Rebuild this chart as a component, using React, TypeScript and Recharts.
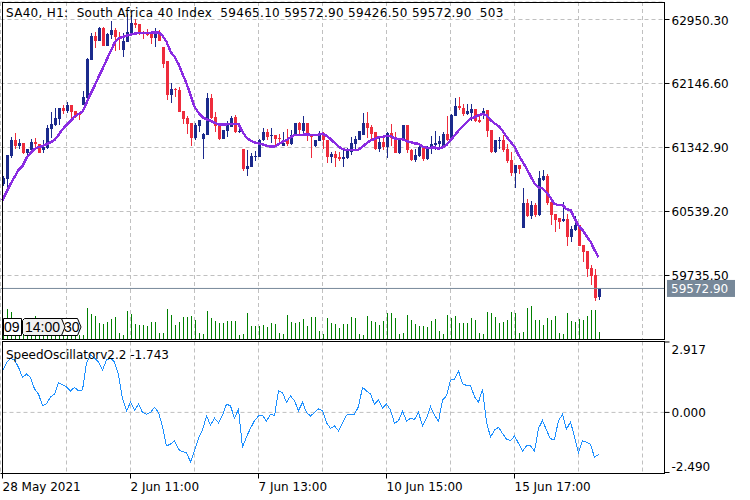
import React from 'react';
import { Bar, CartesianGrid, Cell, ComposedChart, Line, ReferenceLine, XAxis, YAxis } from 'recharts';

const FONT = '"DejaVu Sans", sans-serif';
const TAG_FONT = '"Liberation Sans", sans-serif';
const UP = '#1B2A8C';
const DOWN = '#EE2C3C';
const GRID = '#C0C0C0';
const SLATE = '#778899';
const VOLUME = '#008000';

const opens = [60884,60947,61236,61437,61361,61399,61274,61311,61412,61387,61311,61336,61575,61625,61701,61839,61801,61876,61801,61776,61876,61964,62442,62743,62680,62843,62617,62755,62818,62730,62567,62668,62755,62906,62894,62793,62781,62793,62718,62793,62605,62429,62002,62077,62065,61801,61713,61650,61462,61613,61449,61500,61964,61726,61625,61449,61550,61600,61726,61537,61324,61073,61098,61223,61223,61437,61537,61487,61500,61462,61361,61437,61387,61500,61650,61550,61650,61500,61361,61424,61512,61437,61223,61261,61223,61198,61211,61286,61387,61437,61500,61650,61600,61537,61324,61412,61349,61525,61475,61274,61437,61625,61311,61186,61236,61336,61198,61324,61374,61387,61361,61512,61437,61738,61864,61839,61763,61776,61826,61688,61751,61814,61562,61286,61424,61437,61324,61186,61022,61123,60332,60646,60483,60621,60495,60935,60985,60658,60508,60457,60420,60445,60219,60307,60369,60118,60043,59830,59742,59465.1];
const highs = [60985,61248,61475,61525,61449,61399,61324,61449,61462,61387,61437,61625,61788,61839,61839,61876,61914,61876,61801,61788,62052,62467,62781,62793,62856,62856,62781,62931,62843,62793,62781,63019,63007,62956,62894,62806,62831,62793,62843,62818,62605,62429,62153,62090,62102,61801,61738,61650,61650,61688,61525,62027,62015,61788,61625,61562,61675,61738,61751,61638,61324,61311,61274,61299,61449,61588,61575,61588,61500,61512,61537,61575,61562,61650,61663,61738,61650,61512,61437,61550,61537,61437,61286,61299,61286,61311,61336,61475,61487,61550,61776,61788,61625,61537,61462,61462,61537,61638,61537,61462,61625,61625,61324,61324,61361,61336,61361,61487,61550,61487,61537,61738,61763,61964,61977,61889,61889,61889,61826,61763,61839,61814,61562,61437,61475,61500,61387,61286,61123,61123,60834,60696,60671,60646,61047,61060,61010,60683,60508,60457,60658,60508,60357,60483,60369,60118,60043,59867,59817,59572.9];
const lows = [60859,60784,61211,61324,61324,61261,61211,61274,61324,61274,61274,61324,61462,61613,61625,61763,61776,61663,61713,61688,61876,61902,62442,62592,62680,62617,62617,62705,62555,62567,62479,62668,62755,62843,62755,62705,62743,62642,62605,62680,62341,61939,61902,61977,61788,61638,61512,61361,61437,61537,61198,61500,61701,61537,61437,61449,61475,61600,61525,61525,61047,60985,61098,61173,61223,61424,61437,61399,61374,61399,61361,61361,61374,61500,61512,61525,61424,61211,61349,61424,61324,61148,61148,61098,61173,61098,61198,61248,61311,61437,61500,61462,61437,61311,61286,61311,61211,61361,61274,61261,61437,61274,61173,61161,61223,61173,61186,61261,61311,61324,61361,61424,61437,61738,61814,61738,61751,61675,61663,61650,61701,61475,61274,61274,61324,61286,61148,60985,60834,61010,60332,60470,60445,60470,60483,60922,60621,60369,60282,60319,60407,60106,60156,60294,60106,59905,59717,59616,59415,59426.5];
const closes = [60960,61248,61437,61361,61399,61274,61324,61412,61387,61274,61349,61588,61638,61713,61839,61801,61876,61788,61738,61751,61977,62454,62743,62680,62843,62617,62768,62818,62730,62705,62680,62793,62906,62881,62768,62768,62755,62718,62768,62680,62391,62002,62077,62065,61788,61701,61638,61462,61625,61688,61512,61964,61713,61613,61449,61562,61625,61713,61537,61550,61073,61110,61236,61236,61437,61537,61475,61500,61449,61449,61399,61387,61500,61650,61562,61650,61487,61475,61437,61500,61437,61223,61261,61211,61198,61223,61311,61399,61449,61550,61650,61588,61512,61324,61412,61349,61525,61462,61274,61462,61625,61311,61186,61248,61349,61198,61324,61387,61399,61424,61512,61437,61751,61864,61839,61763,61801,61826,61675,61663,61801,61550,61286,61437,61437,61311,61173,61022,61123,61073,60646,60483,60621,60495,60960,60985,60646,60495,60432,60407,60445,60219,60319,60369,60106,60031,59817,59729,59453,59572.9];
const volumes = [1056,2002,1804,1166,1056,1100,1276,1166,1584,1166,1056,1166,1056,1012,836,946,726,836,616,286,286,2068,1672,1584,1078,1012,1144,1342,1474,418,286,1870,1672,1012,946,946,880,1144,1144,418,418,2002,1606,946,1144,1474,1474,1540,1276,418,352,1870,1408,1210,1078,1078,1210,1210,1210,286,352,1738,880,880,880,946,814,1078,1012,418,352,1606,1144,1078,1144,1342,880,1474,1474,550,352,1408,1078,1012,748,1012,1012,1474,1408,352,286,1540,1210,1144,946,1210,1738,1738,1408,352,418,1606,1276,1012,880,880,814,1210,1342,550,352,1606,1408,1540,1078,1078,1078,1408,1276,418,352,1804,1738,1474,1078,1144,1276,1804,1738,418,484,2068,2200,1276,1276,946,1408,1276,1540,418,352,1738,1210,1144,1342,1276,1540,1936,1936,503];
const movingAverage = [60683,60784,60884,60972,61060,61110,61211,61274,61324,61349,61361,61383,61408,61437,61500,61571,61625,61675,61730,61763,61792,61902,62015,62115,62228,62328,62442,62546,62655,62714,62730,62747,62759,62772,62781,62784,62784,62784,62789,62789,62747,62671,62546,62483,62391,62266,62149,62002,61855,61780,61722,61697,61679,61654,61634,61634,61634,61638,61638,61638,61541,61466,61428,61408,61395,61383,61365,61353,61353,61383,61416,61437,61471,61500,61503,61503,61508,61503,61503,61503,61516,61491,61449,61403,61353,61324,61311,61311,61311,61315,61353,61395,61433,61449,61471,61478,61487,61487,61458,61449,61446,61424,61412,61395,61390,61353,61340,61340,61345,61328,61345,61374,61437,61491,61554,61604,61659,61709,61722,61747,61763,61751,61688,61647,61613,61554,61478,61416,61353,61248,61164,61081,60985,60893,60843,60830,60780,60712,60633,60621,60621,60567,60558,60454,60361,60307,60231,60160,60056,59964];
const oscillator = [1.73,2.06,2.25,2.17,1.87,1.45,1.59,1.45,0.97,0.76,0.28,0.35,0.64,0.76,1.23,1.15,1.06,0.89,1.04,0.89,0.93,2.05,2.38,2.25,2.09,1.76,2.17,2.25,2.09,1.55,0.58,0.06,0.42,0.09,0.34,0,-0.08,0,0.21,0,-0.59,-1.39,-1.31,-1.17,-1.53,-1.63,-1.67,-2.05,-1.6,-1.07,-0.73,-0.15,-0.52,-0.24,-0.43,-0.11,0.34,0.27,-0.24,0.13,-1.45,-1.01,-0.66,-0.34,-0.15,-0.11,-0.37,-0.07,-0.14,0.9,0.82,0.42,0.68,0.48,0.07,0.42,0,-0.15,0,0.14,0.07,-0.43,-0.66,-0.56,-0.76,-0.43,-0.11,-0.07,-0.07,0.24,1.04,0.89,0.76,0.34,0.51,0.17,0.35,0.1,-0.45,-0.34,0.05,-0.36,-0.24,-0.29,0,-0.56,-0.24,0.24,-0.11,-0.37,0.51,0.69,1.34,1.38,1.72,1.18,1.12,1.11,0.65,0.42,0.96,-0.39,-1.03,-0.73,-0.62,-0.87,-1.11,-1.17,-0.98,-1.28,-1.61,-1.39,-1.39,-1.61,-0.66,-0.34,-0.73,-1.1,-1.11,-0.34,-0.08,-0.7,-0.39,-1.01,-1.67,-1.18,-1.24,-1.32,-1.86,-1.743];

const priceTicks = [62950.3, 62146.6, 61342.9, 60539.2, 59735.5];
const oscTicks = [2.917, 0, -2.49];
const gridSlots = [0, 16, 32, 48, 64, 80, 96, 112, 128, 144, 160];
const timeSlots = [0, 32, 64, 96, 128];
const timeLabels = ['28 May 2021', '2 Jun 11:00', '7 Jun 13:00', '10 Jun 15:00', '15 Jun 17:00'];
const lastPrice = 59572.9;
const TITLE = 'SA40, H1:  South Africa 40 Index  59465.10 59572.90 59426.50 59572.90  503';
const OSC_TITLE = 'SpeedOscillatorv2.2 -1.743';
const SLOTS = 166;
// recharts floors the bar offset inside a band, this puts bars back on whole pixels
const BAR_PADDING = { left: 0.5, right: -0.5 };

const rows = Array.from({ length: SLOTS }, (_, slot) => {
  if (slot >= opens.length) return { slot, wick: null, body: null, volume: null, ma: null, osc: null };
  return {
    slot,
    wick: [lows[slot], highs[slot]],
    body: [Math.min(opens[slot], closes[slot]), Math.max(opens[slot], closes[slot])],
    volume: volumes[slot],
    ma: movingAverage[slot],
    osc: oscillator[slot],
  };
});
const candles = rows.slice(0, opens.length);
const candleColor = (i: number) => (closes[i] >= opens[i] ? UP : DOWN);

const PriceTick = ({ x, y, payload }: any) => (
  <text x={x} y={y + 5} fontFamily={FONT} fontSize={12} fill="#000">
    {payload.value.toFixed(2)}
  </text>
);

// top and bottom labels get pushed inside the panel like the terminal does
const OscTick = ({ x, y, payload }: any) => {
  const nudge = payload.value > 0 ? 7 : payload.value < 0 ? -7 : 0;
  return (
    <text x={x} y={y + 5 + nudge} fontFamily={FONT} fontSize={12} fill="#000">
      {payload.value.toFixed(3)}
    </text>
  );
};

const TimeTick = ({ x, y, payload }: any) => (
  <text x={x} y={y + 10} fontFamily={FONT} fontSize={12} fill="#000">
    {timeLabels[timeSlots.indexOf(payload.value)]}
  </text>
);

const PriceTag = ({ viewBox }: any) => (
  <g>
    <rect x={667} y={viewBox.y - 8.5} width={68} height={17} fill={SLATE} />
    <text x={671} y={viewBox.y + 5} fontFamily={FONT} fontSize={12} fill="#fff">
      {lastPrice.toFixed(2)}
    </text>
  </g>
);

const Overlay = () => (
  <svg width={750} height={500} style={{ position: 'absolute', left: 0, top: 0, pointerEvents: 'none' }}>
    <rect x={2.5} y={2.5} width={662} height={337} fill="none" stroke="#000" />
    <rect x={2.5} y={341.5} width={662} height={132} fill="none" stroke="#000" />
    <g fontFamily={FONT} fontSize={12} fill="#000">
      <text x={6} y={17} letterSpacing={0.31} style={{ whiteSpace: 'pre' }}>{TITLE}</text>
      <text x={6} y={359}>{OSC_TITLE}</text>
    </g>
    <g fontFamily={TAG_FONT} fontSize={14} fill="#000" stroke="#000" strokeWidth={1}>
      <path d="M3.5 318.5H21.5V335.5H3.5Z" fill="#fff" />
      <path d="M61 318.5H77.5L81 327L77.5 335.5H61Z" fill="#fff" />
      <text x={64} y={332} stroke="none">30</text>
      <path d="M24.5 318.5H61.5L65 327L61.5 335.5H24.5L22.5 333.5V320.5Z" fill="#F0F0F0" />
      <text x={4} y={332} stroke="none">09</text>
      <text x={25} y={332} stroke="none">14:00</text>
    </g>
  </svg>
);

export default function App() {
  return (
    <div style={{ position: 'fixed', left: 0, top: 0, width: 750, height: 500, background: '#fff' }}>
      <div style={{ position: 'absolute', left: 0, top: 0 }}>
        <ComposedChart width={750} height={500} data={rows} margin={{ top: 2, right: 0, bottom: 160.5, left: 0.5 }} barGap={0} barCategoryGap={0}>
          <CartesianGrid xAxisId="grid" yAxisId="price" stroke={GRID} strokeDasharray="4 3" />
          <XAxis xAxisId="grid" dataKey="slot" scale="band" hide ticks={gridSlots} interval={0} />
          <XAxis xAxisId="wick" dataKey="slot" scale="band" hide padding={BAR_PADDING} />
          <XAxis xAxisId="body" dataKey="slot" scale="band" hide padding={BAR_PADDING} />
          <XAxis xAxisId="vol" dataKey="slot" scale="band" hide padding={BAR_PADDING} />
          <YAxis yAxisId="price" orientation="right" width={85.5} domain={[58931.74, 63170.07]} ticks={priceTicks} interval={0} allowDataOverflow stroke="#000" tickSize={5} tickLine={{ stroke: '#000' }} tick={<PriceTick />} />
          <YAxis yAxisId="vol" hide domain={[0, 22275]} />
          <Bar xAxisId="vol" yAxisId="vol" dataKey="volume" barSize={1} fill={VOLUME} stroke="none" shapeRendering="crispEdges" isAnimationActive={false} />
          <ReferenceLine yAxisId="price" xAxisId="grid" y={lastPrice} stroke={SLATE} label={<PriceTag />} />
          <Bar xAxisId="wick" yAxisId="price" dataKey="wick" barSize={1} shapeRendering="crispEdges" isAnimationActive={false}>
            {candles.map((_, i) => <Cell key={i} fill={candleColor(i)} />)}
          </Bar>
          <Bar xAxisId="body" yAxisId="price" dataKey="body" barSize={3} shapeRendering="crispEdges" isAnimationActive={false}>
            {candles.map((_, i) => <Cell key={i} fill={candleColor(i)} />)}
          </Bar>
          <Line xAxisId="grid" yAxisId="price" dataKey="ma" stroke="#8A2BE2" strokeWidth={2.4} shapeRendering="crispEdges" dot={false} isAnimationActive={false} />
        </ComposedChart>
      </div>
      <div style={{ position: 'absolute', left: 0, top: 0 }}>
        <ComposedChart width={750} height={500} data={rows} margin={{ top: 341.5, right: 0, bottom: 0, left: 0.5 }}>
          <CartesianGrid xAxisId="grid" yAxisId="osc" stroke={GRID} strokeDasharray="4 3" horizontal={false} />
          <XAxis xAxisId="grid" dataKey="slot" scale="band" hide height={0} ticks={gridSlots} interval={0} />
          <XAxis xAxisId="time" dataKey="slot" scale="band" height={26.5} ticks={timeSlots} interval={0} stroke="#000" tickSize={5} tick={<TimeTick />} />
          <YAxis yAxisId="osc" orientation="right" width={85.5} domain={[-2.5314, 2.9377]} ticks={oscTicks} interval={0} allowDataOverflow stroke="#000" tickSize={5} tick={<OscTick />} />
          <ReferenceLine yAxisId="osc" xAxisId="time" y={0} stroke={GRID} strokeDasharray="4 3" />
          <Line xAxisId="time" yAxisId="osc" dataKey="osc" stroke="#1E90FF" strokeWidth={1} shapeRendering="crispEdges" dot={false} isAnimationActive={false} />
        </ComposedChart>
      </div>
      <Overlay />
    </div>
  );
}
